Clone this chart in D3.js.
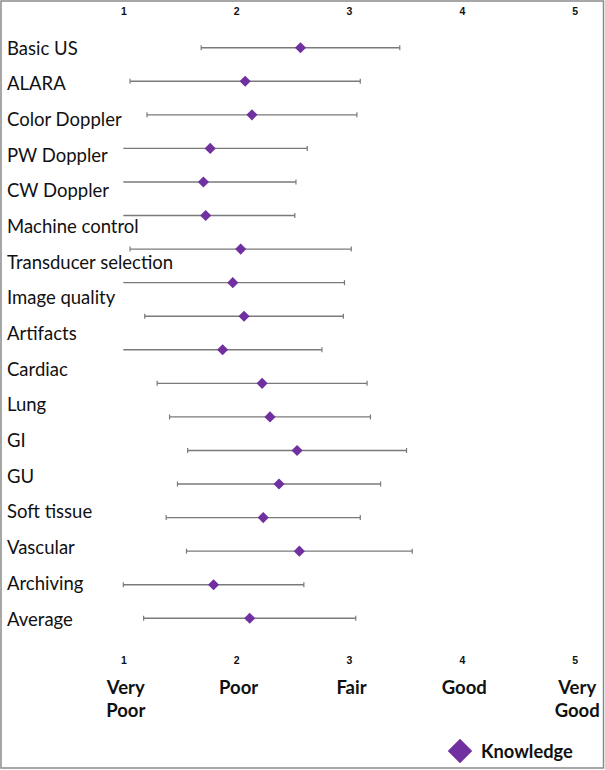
<!DOCTYPE html>
<html>
<head>
<meta charset="utf-8">
<script src="https://cdn.jsdelivr.net/npm/d3@7"></script>
<style>
  body { margin: 0; background: #fff; }
  svg { display: block; font-family: Lato, "Open Sans", sans-serif; }
  .rowLabel { font-size: 18.5px; fill: #111; }
  .tickText { font-size: 10.5px; font-weight: bold; fill: #111; }
  .rateText { font-size: 18.5px; font-weight: bold; fill: #111; }
  .legendText { font-size: 18.3px; font-weight: bold; fill: #111; }
</style>
</head>
<body>
<div id="chart"></div>
<script>
// rows as they are written down the left side
var labels = ["Basic US", "ALARA", "Color Doppler", "PW Doppler", "CW Doppler",
  "Machine control", "Transducer selection", "Image quality", "Artifacts",
  "Cardiac", "Lung", "GI", "GU", "Soft tissue", "Vascular", "Archiving", "Average"];

// plotted points (mean) and error bar half width (sd)
var means = [2.57, 2.08, 2.14, 1.77, 1.71, 1.73, 2.04, 1.97, 2.07, 1.88,
  2.23, 2.30, 2.54, 2.38, 2.24, 2.56, 1.80, 2.12];
var sds = [0.88, 1.02, 0.93, 0.86, 0.82, 0.79, 0.98, 0.99, 0.88, 0.88,
  0.93, 0.89, 0.97, 0.90, 0.86, 1.00, 0.80, 0.94];

var tickValues = [1, 2, 3, 4, 5];
var ratings = ["Very Poor", "Poor", "Fair", "Good", "Very Good"];
var seriesName = "Knowledge";

var width = 605;
var height = 770;
var purple = "#7030a0";
var barColor = "#7a7a7a";

var svg = d3.select("#chart")
  .append("svg")
  .attr("width", width)
  .attr("height", height);

// frame
svg.append("rect")
  .attr("x", 1)
  .attr("y", 1)
  .attr("width", width - 2.5)
  .attr("height", height - 3)
  .attr("fill", "none")
  .attr("stroke", "#8a8a8a")
  .attr("stroke-width", 1.5);

var xScale = d3.scaleLinear()
  .domain([1, 5])
  .range([123.3, 574.7]);

var rowIdx = d3.range(means.length);
var yScale = d3.scalePoint()
  .domain(rowIdx)
  .range([47.7, 618.3]);

var labelScale = d3.scalePoint()
  .domain(labels)
  .range([48.3, 619]);

function cleanAxis(g) {
  g.select(".domain").remove();
  g.selectAll("text")
    .attr("class", "tickText")
    .attr("font-family", null)
    .attr("font-size", null)
    .attr("fill", null);
}

// number axes top and bottom
var topAxis = d3.axisTop(xScale).tickValues(tickValues).tickSize(0).tickFormat(d3.format("d"));
svg.append("g")
  .attr("transform", "translate(0,18)")
  .call(topAxis)
  .call(cleanAxis);

var bottomAxis = d3.axisBottom(xScale).tickValues(tickValues).tickSize(0).tickFormat(d3.format("d"));
svg.append("g")
  .attr("transform", "translate(0,654)")
  .call(bottomAxis)
  .call(cleanAxis);

// rating words under the bottom numbers
var rate = svg.append("g").selectAll("text")
  .data(ratings)
  .enter()
  .append("text")
  .attr("class", "rateText")
  .attr("text-anchor", "middle")
  .attr("y", 694);

rate.each(function(d, i) {
  var words = d.split(" ");
  var t = d3.select(this);
  words.forEach(function(w, j) {
    t.append("tspan")
      .attr("x", xScale(tickValues[i]) + 2.5)
      .attr("dy", j === 0 ? 0 : 23)
      .text(w);
  });
});

// row labels
svg.append("g").selectAll("text")
  .data(labels)
  .enter()
  .append("text")
  .attr("class", "rowLabel")
  .attr("x", 7)
  .attr("y", function(d) { return labelScale(d) + 6.5; })
  .text(function(d) { return d; });

// error bars, clipped at the axis minimum
var bars = svg.append("g").selectAll("g")
  .data(rowIdx)
  .enter()
  .append("g");

bars.append("line")
  .attr("x1", function(i) { return xScale(Math.max(1, means[i] - sds[i])); })
  .attr("x2", function(i) { return xScale(Math.min(5, means[i] + sds[i])); })
  .attr("y1", function(i) { return yScale(i); })
  .attr("y2", function(i) { return yScale(i); })
  .attr("stroke", barColor)
  .attr("stroke-width", 1.4);

bars.filter(function(i) { return means[i] - sds[i] >= 1; })
  .append("line")
  .attr("x1", function(i) { return xScale(means[i] - sds[i]); })
  .attr("x2", function(i) { return xScale(means[i] - sds[i]); })
  .attr("y1", function(i) { return yScale(i) - 2.5; })
  .attr("y2", function(i) { return yScale(i) + 2.5; })
  .attr("stroke", barColor)
  .attr("stroke-width", 1.2);

bars.append("line")
  .attr("x1", function(i) { return xScale(means[i] + sds[i]); })
  .attr("x2", function(i) { return xScale(means[i] + sds[i]); })
  .attr("y1", function(i) { return yScale(i) - 2.5; })
  .attr("y2", function(i) { return yScale(i) + 2.5; })
  .attr("stroke", barColor)
  .attr("stroke-width", 1.2);

var diamond = d3.symbol().type(d3.symbolSquare).size(62);

bars.append("path")
  .attr("d", diamond)
  .attr("transform", function(i) {
    return "translate(" + xScale(means[i]) + "," + yScale(i) + ") rotate(45)";
  })
  .attr("fill", purple);

// legend
var legend = svg.append("g").attr("transform", "translate(460,751)");
legend.append("path")
  .attr("d", d3.symbol().type(d3.symbolSquare).size(300))
  .attr("transform", "rotate(45)")
  .attr("fill", purple);
legend.append("text")
  .attr("class", "legendText")
  .attr("x", 21)
  .attr("y", 6.5)
  .text(seriesName);
</script>
</body>
</html>
